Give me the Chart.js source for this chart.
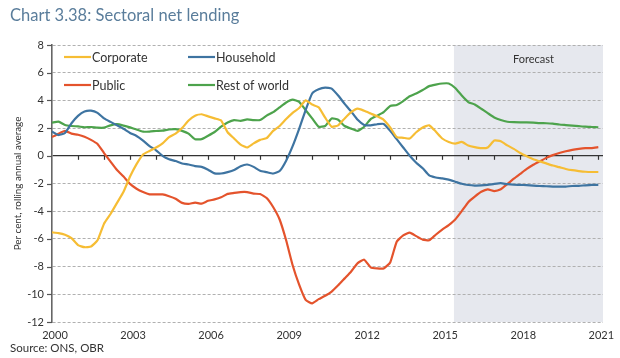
<!DOCTYPE html>
<html><head><meta charset="utf-8">
<script src="https://cdn.jsdelivr.net/npm/chart.js@4.4.1/dist/chart.umd.min.js"></script>
<style>
html,body{margin:0;padding:0;background:#fff;}
#wrap{position:relative;width:620px;height:358px;font-family:Lato,"Open Sans",sans-serif;overflow:hidden;}
#title{position:absolute;left:10px;top:5px;font-size:16.5px;color:#5a7d9b;white-space:nowrap;}
#source{position:absolute;left:10px;top:341px;font-size:11.5px;color:#333;white-space:nowrap;}
canvas{position:absolute;left:0;top:0;}
</style></head><body>
<div id="wrap"><canvas id="c" width="620" height="358"></canvas>
<div id="title">Chart 3.38: Sectoral net lending</div>
<div id="source">Source: ONS, OBR</div></div>
<script>
// quarterly categories 2000 Q1 .. 2021 Q1
const quarters = [];
for (let y = 2000; y <= 2021; y++) for (let q = 1; q <= 4; q++) { if (y === 2021 && q > 1) break; quarters.push(y + ' Q' + q); }

const corporate = [-5.53,-5.58,-5.7,-5.95,-6.45,-6.6,-6.55,-6.1,-4.9,-4.2,-3.4,-2.6,-1.5,-0.6,0.1,0.35,0.6,0.9,1.35,1.6,2.0,2.55,2.9,3.0,2.85,2.7,2.55,1.7,1.25,0.8,0.6,0.9,1.15,1.27,1.8,2.15,2.65,3.1,3.45,4.0,3.7,3.5,2.75,2.1,2.2,2.7,3.15,3.4,3.25,3.05,2.85,2.6,2.05,1.35,1.3,1.25,1.7,2.05,2.2,1.75,1.25,1.0,0.88,1.0,0.75,0.63,0.55,0.6,1.1,1.05,0.75,0.5,0.2,-0.04,-0.25,-0.4,-0.55,-0.7,-0.82,-0.95,-1.04,-1.1,-1.15,-1.17,-1.17];
const household = [1.75,1.5,1.65,2.35,2.88,3.2,3.26,3.1,2.7,2.45,2.2,1.95,1.65,1.43,1.1,0.7,0.4,0.0,-0.25,-0.38,-0.56,-0.63,-0.74,-0.8,-1.0,-1.27,-1.28,-1.18,-1.03,-0.75,-0.63,-0.8,-1.08,-1.18,-1.28,-1.1,-0.35,0.7,1.95,3.3,4.5,4.8,4.92,4.85,4.35,3.75,3.2,2.6,2.23,2.2,2.28,2.3,1.8,1.2,0.6,0.0,-0.5,-0.9,-1.42,-1.57,-1.63,-1.72,-1.87,-2.02,-2.11,-2.15,-2.14,-2.1,-2.03,-1.98,-2.05,-2.09,-2.1,-2.12,-2.15,-2.18,-2.2,-2.22,-2.23,-2.22,-2.18,-2.17,-2.13,-2.1,-2.1];
const publicSector = [1.35,1.6,1.8,1.6,1.52,1.38,1.15,0.85,0.2,-0.42,-1.03,-1.5,-2.03,-2.38,-2.62,-2.78,-2.79,-2.79,-2.92,-3.1,-3.4,-3.47,-3.38,-3.45,-3.25,-3.15,-3.0,-2.75,-2.68,-2.62,-2.62,-2.73,-2.76,-3.05,-3.7,-4.6,-6.1,-7.9,-9.3,-10.4,-10.65,-10.35,-10.1,-9.8,-9.35,-8.85,-8.35,-7.75,-7.5,-8.05,-8.13,-8.13,-7.7,-6.2,-5.75,-5.55,-5.8,-6.05,-6.1,-5.7,-5.33,-5.0,-4.6,-4.0,-3.35,-2.95,-2.6,-2.42,-2.55,-2.42,-2.05,-1.65,-1.3,-0.95,-0.65,-0.4,-0.15,0.05,0.2,0.33,0.43,0.5,0.55,0.56,0.62];
const restOfWorld = [2.4,2.47,2.22,2.15,2.12,2.06,2.08,2.03,2.03,2.2,2.28,2.18,2.05,1.9,1.74,1.75,1.79,1.82,1.9,1.92,1.8,1.6,1.2,1.2,1.45,1.72,2.1,2.4,2.58,2.52,2.63,2.58,2.58,2.9,3.15,3.5,3.85,4.05,3.9,3.3,2.7,2.1,2.15,2.7,2.6,2.15,1.96,1.8,2.1,2.65,2.9,3.15,3.6,3.67,3.95,4.3,4.5,4.75,5.03,5.14,5.22,5.22,4.9,4.35,3.88,3.7,3.4,3.08,2.77,2.58,2.46,2.43,2.42,2.42,2.4,2.36,2.35,2.32,2.26,2.22,2.18,2.14,2.1,2.08,2.06];

const seriesNames = ['Corporate', 'Household', 'Public', 'Rest of world'];
const seriesColors = ['#f6bd34', '#3e74a1', '#e4532c', '#4da34c'];
const yearTicks = [2000, 2003, 2006, 2009, 2012, 2015, 2018, 2021];
const yTicks = [-12, -10, -8, -6, -4, -2, 0, 2, 4, 6, 8];
const forecastFrom = 2015.45;
const forecastLabel = 'Forecast';
const yTitle = 'Per cent, rolling annual average';

const FONT = 'Lato, "Open Sans", sans-serif';
const qToYear = q => { const [y, qq] = q.split(' Q'); return +y + (+qq - 1) / 4; };
const toPts = arr => quarters.map((q, i) => ({ x: qToYear(q), y: arr[i] }));

const allSeries = [corporate, household, publicSector, restOfWorld];
const datasets = allSeries.map((arr, i) => ({
  label: seriesNames[i], data: toPts(arr), borderColor: seriesColors[i], backgroundColor: seriesColors[i],
  borderWidth: 2.2, pointRadius: 0, tension: 0.15, fill: false
}));

const decor = {
  id: 'decor',
  beforeDraw(chart) {
    const { ctx, chartArea: a, scales: { x } } = chart;
    const x0 = x.getPixelForValue(forecastFrom);
    ctx.save();
    ctx.fillStyle = '#e6e8ee';
    ctx.fillRect(x0, a.top, a.right - x0, a.bottom - a.top);
    ctx.restore();
  },
  beforeDatasetsDraw(chart) {
    const { ctx, chartArea: a, scales: { x, y } } = chart;
    ctx.save();
    ctx.strokeStyle = '#333'; ctx.lineWidth = 1.2;
    const y0 = y.getPixelForValue(0);
    for (let yr = 2001; yr <= 2021; yr++) {
      const px = Math.round(x.getPixelForValue(yr)) + 0.5;
      ctx.beginPath(); ctx.moveTo(px, y0); ctx.lineTo(px, y0 + 4); ctx.stroke();
    }
    ctx.strokeStyle = '#555';
    yTicks.forEach(v => {
      const py = Math.round(y.getPixelForValue(v)) + 0.5;
      ctx.beginPath(); ctx.moveTo(a.left - 5, py); ctx.lineTo(a.left, py); ctx.stroke();
    });
    ctx.restore();
  },
  afterDraw(chart) {
    const { ctx, chartArea: a, scales: { x } } = chart;
    ctx.save();
    ctx.fillStyle = '#333';
    ctx.font = '11px ' + FONT;
    ctx.textAlign = 'center'; ctx.textBaseline = 'middle';
    ctx.fillText(forecastLabel, (x.getPixelForValue(forecastFrom) + a.right) / 2 + 5, 59);
    // legend
    const pos = [[64, 57], [188, 57], [64, 85], [188, 85]];
    ctx.font = '12.5px ' + FONT; ctx.textAlign = 'left';
    chart.data.datasets.forEach((ds, i) => {
      const [lx, ly] = pos[i];
      ctx.strokeStyle = ds.borderColor; ctx.lineWidth = 2.2;
      ctx.beginPath(); ctx.moveTo(lx, ly); ctx.lineTo(lx + 27, ly); ctx.stroke();
      ctx.fillStyle = '#333';
      ctx.fillText(ds.label, lx + 28, ly + 0.5);
    });
    ctx.restore();
  }
};

new Chart(document.getElementById('c'), {
  type: 'line',
  data: { datasets },
  options: {
    responsive: false, animation: false, events: [],
    layout: { padding: { left: 0, right: 17, top: 45, bottom: 0 } },
    plugins: { legend: { display: false }, tooltip: { enabled: false }, title: { display: false } },
    scales: {
      x: {
        type: 'linear', min: 2000, max: 2021.18,
        afterBuildTicks: s => { s.ticks = yearTicks.map(v => ({ value: v })); },
        afterFit: s => { s.height = 36; },
        grid: { display: false, drawTicks: false }, border: { display: false },
        ticks: { color: '#333', font: { size: 11, family: FONT }, padding: 7, labelOffset: 3, maxRotation: 0, autoSkip: false, callback: v => String(v) }
      },
      y: {
        min: -12, max: 8,
        afterBuildTicks: s => { s.ticks = yTicks.map(v => ({ value: v })); },
        afterFit: s => { s.width = 52; },
        grid: {
          drawTicks: false,
          color: c => c.tick && c.tick.value === 0 ? '#333' : '#b0b0b0',
          lineWidth: c => c.tick && c.tick.value === 0 ? 1.3 : 1
        },
        border: { display: true, color: '#666', width: 1.6, dash: c => c.tick && c.tick.value === 0 ? [] : [3, 2] },
        ticks: { color: '#333', font: { size: 11, family: FONT }, padding: 8, callback: v => String(v) },
        title: { display: true, text: yTitle, color: '#333', font: { size: 9.8, family: FONT }, padding: { top: 12, bottom: 0 } }
      }
    }
  },
  plugins: [decor]
});
</script>
</body></html>
